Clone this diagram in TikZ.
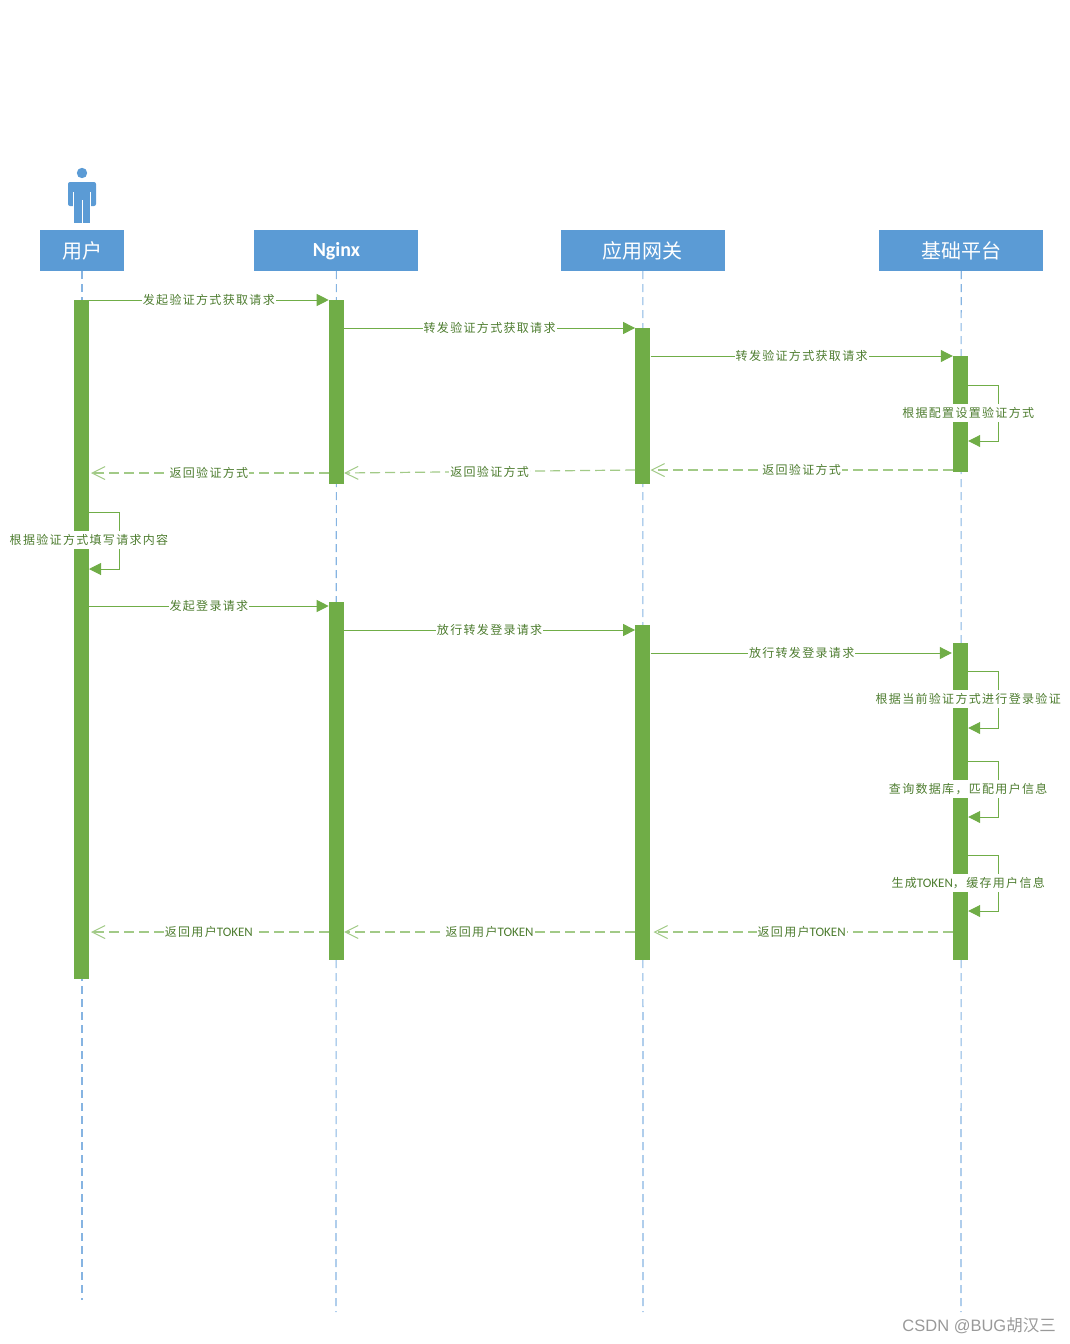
\documentclass[tikz,border=0pt]{standalone}
\usepackage{fontspec}
\setmainfont{Noto Sans CJK SC}[LetterSpace=11]
\newfontfamily\headfont{Noto Sans CJK SC}
\newfontfamily\latinfont{Carlito}
\newfontfamily\markfont{Liberation Sans}
\usetikzlibrary{arrows.meta}
\usetikzlibrary{positioning}
\definecolor{headblue}{HTML}{5B9BD5}
\definecolor{barGreen}{HTML}{70AD47}
\definecolor{lblGreen}{HTML}{4E7D30}
\definecolor{lifeBlue}{HTML}{86B4E2}
\newcommand{\tokentext}{{\latinfont\fontsize{13}{14}\selectfont TOKEN}}
\begin{document}
\begin{tikzpicture}[
                x=1pt, y=-1pt,
                head/.style={fill=headblue, text=white, minimum height=41pt, inner sep=0pt, font=\headfont\fontsize{20}{22}\selectfont},
                life/.style={draw=lifeBlue, line width=1.1pt, dash pattern=on 8pt off 5pt},
                bar/.style={fill=barGreen, minimum width=15pt, inner sep=0pt, anchor=north},
                lbl/.style={fill=white, text=lblGreen, inner xsep=1pt, inner ysep=3pt, font=\fontsize{12}{14}\selectfont},
                msg/.style={draw=barGreen, line width=1pt, -{Triangle[length=12pt,width=12pt]}},
                back/.style={draw=barGreen!65!white, line width=1.2pt, dash pattern=on 10pt off 5pt, -{Straight Barb[length=13pt,width=13pt,line width=1pt]}, shorten >=2pt}
            ]
            \useasboundingbox (0,0) rectangle (1070,1344);

            % Define nodes
            \node[head, minimum width=84pt] (headUser) at (82,250.5) {用户};
            \node[head, minimum width=164pt, right=130pt of headUser] (headNginx) {\vphantom{用}{\latinfont\bfseries Nginx}};
            \node[head, minimum width=164pt, right=142pt of headNginx] (headGate) {应用网关};
            \node[head, minimum width=164pt, right=154pt of headGate] (headPlat) {基础平台};

            % User figure
            \fill[headblue] (82,173) circle (5.2);
            \fill[headblue, rounded corners=2pt] (68,206) -- (68,182) -- (96,182) -- (96,206) -- cycle;
            \fill[headblue] (74,200) rectangle (90,223);
            \draw[white, line width=0.8pt] (73.5,192) -- (73.5,207) (90.5,192) -- (90.5,207) (82,200) -- (82,223);

            % Lifelines
            \coordinate (endUser) at (82,1300);
            \coordinate (endNginx) at (336,1312);
            \coordinate (endGate) at (643,1312);
            \coordinate (endPlat) at (961,1312);
            \draw[life] (headUser) -- (endUser);
            \draw[life] (headNginx) -- (endNginx);
            \draw[life] (headGate) -- (endGate);
            \draw[life] (headPlat) -- (endPlat);

            % Activation bars
            \node[bar, minimum height=679pt, xshift=-0.7pt] (barUser) at (headUser |- 0,300) {};
            \node[bar, minimum height=184pt] (barNginxA) at (headNginx |- 0,300) {};
            \node[bar, minimum height=358pt] (barNginxB) at (headNginx |- 0,602) {};
            \node[bar, minimum height=156pt] (barGateA) at (headGate |- 0,328) {};
            \node[bar, minimum height=335pt] (barGateB) at (headGate |- 0,625) {};
            \node[bar, minimum height=116pt, xshift=-0.7pt] (barPlatA) at (headPlat |- 0,356) {};
            \node[bar, minimum height=317pt, xshift=-0.7pt] (barPlatB) at (headPlat |- 0,643) {};

            % Query messages
            \draw[msg] (barUser.east |- 0,300) -- node[lbl] {发起验证方式获取请求} (barNginxA.west |- 0,300);
            \draw[msg] (barNginxA.east |- 0,328) -- node[lbl] {转发验证方式获取请求} (barGateA.west |- 0,328);
            \draw[msg] (barGateA.east |- 0,356) -- node[lbl] {转发验证方式获取请求} (barPlatA.west |- 0,356);

            % Self calls
            \draw[msg] (barPlatA.east |- 0,385) -- ++(30,0) |- (barPlatA.east |- 0,441);
            \node[lbl] (selfPlatA) at (barPlatA.east |- 0,413) {根据配置设置验证方式};
            \draw[msg] (barUser.east |- 0,512) -- ++(30,0) |- (barUser.east |- 0,569);
            \node[lbl] (selfUser) at (barUser.east |- 0,540) {根据验证方式填写请求内容};

            % Returned messages
            \draw[back, shorten >=0pt] (barPlatA.west |- 0,470) -- node[lbl] {返回验证方式} (barGateA.east |- 0,470);
            \draw[back, shorten >=0pt] (barGateA.west |- 0,470) -- node[lbl] {返回验证方式} (barNginxA.east |- 0,473);
            \draw[back] (barNginxA.west |- 0,473) -- node[lbl] {返回验证方式} (barUser.east |- 0,473);

            % Login messages
            \draw[msg] (barUser.east |- 0,606) -- node[lbl] {发起登录请求} (barNginxB.west |- 0,606);
            \draw[msg] (barNginxB.east |- 0,630) -- node[lbl] {放行转发登录请求} (barGateB.west |- 0,630);
            \draw[msg, shorten >=1pt] (barGateB.east |- 0,653) -- node[lbl] {放行转发登录请求} (barPlatB.west |- 0,653);

            \draw[msg] (barPlatB.east |- 0,671) -- ++(30,0) |- (barPlatB.east |- 0,728);
            \node[lbl] (selfPlatB) at (barPlatB.east |- 0,699) {根据当前验证方式进行登录验证};
            \draw[msg] (barPlatB.east |- 0,761) -- ++(30,0) |- (barPlatB.east |- 0,817);
            \node[lbl] (selfPlatC) at (barPlatB.east |- 0,789) {查询数据库，匹配用户信息};
            \draw[msg] (barPlatB.east |- 0,855) -- ++(30,0) |- (barPlatB.east |- 0,911);
            \node[lbl] (selfPlatD) at (barPlatB.east |- 0,883) {生成\tokentext，缓存用户信息};

            \draw[back, shorten >=3pt] (barPlatB.west |- 0,932) -- node[lbl] {返回用户\tokentext} (barGateB.east |- 0,932);
            \draw[back, shorten >=0pt] (barGateB.west |- 0,932) -- node[lbl] {返回用户\tokentext} (barNginxB.east |- 0,932);
            \draw[back] (barNginxB.west |- 0,932) -- node[lbl] {返回用户\tokentext} (barUser.east |- 0,932);

            % Watermark
            \node[text=black!40, anchor=east, inner sep=0pt, font=\fontsize{16.5}{20}\selectfont] (mark) at (1056,1326) {{\markfont CSDN @BUG}{\headfont 胡汉三}};
        \end{tikzpicture}
\end{document}
